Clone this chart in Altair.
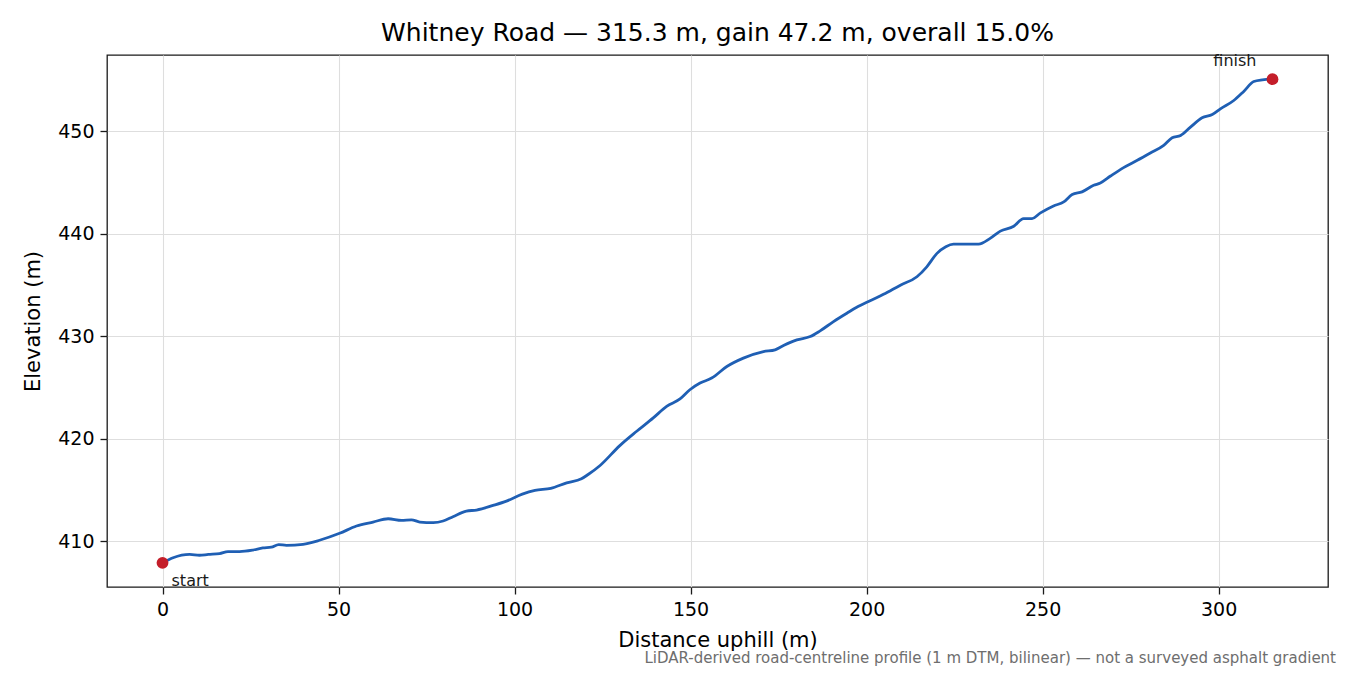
import altair as alt
import pandas as pd

# distance along the road (m) and elevation (m)
distance = [0, 3, 7.7, 10.5, 13, 16.2, 18.6, 21.9, 25.7, 28.5, 30.9, 33, 35.2, 39.9, 44.6,
            50.3, 55.1, 59.8, 64.1, 67.9, 70.7, 73.1, 76.9, 79.7, 82.5, 86.3, 89.2, 93.9, 97.7,
            102.2, 105.8, 110.3, 114.8, 119, 120.9, 124.3, 129.9, 134.7, 139.4, 143.2, 147,
            149.8, 152.7, 156, 160.3, 165, 170.7, 174, 176.4, 180.2, 184, 186.8, 190.6, 194.4,
            197.2, 201, 204.8, 209.6, 214.3, 217.1, 220, 222.5, 224.7, 231.8, 235.1, 238,
            241.8, 244.6, 247, 249.4, 253.1, 256, 258.4, 261.2, 264.5, 266.4, 269.3, 273,
            276.9, 280.6, 284.4, 286.8, 289.2, 292, 295.3, 298.2, 300.5, 304.3, 307.2, 310,
            312.4, 315.3]
elevation = [407.9, 408.4, 408.73, 408.64, 408.72, 408.8, 409.0, 409.0, 409.15, 409.35,
             409.42, 409.68, 409.61, 409.71, 410.1, 410.78, 411.49, 411.88, 412.2, 412.04,
             412.1, 411.88, 411.82, 411.98, 412.4, 412.95, 413.05, 413.5, 413.92, 414.6,
             414.97, 415.17, 415.71, 416.1, 416.52, 417.4, 419.34, 420.74, 422.04, 423.17,
             423.89, 424.79, 425.44, 425.93, 427.06, 427.88, 428.52, 428.69, 429.11, 429.66,
             429.98, 430.54, 431.44, 432.26, 432.84, 433.48, 434.1, 435.0, 435.82, 436.79,
             438.1, 438.75, 439.0, 439.0, 439.56, 440.27, 440.75, 441.5, 441.5, 442.05,
             442.73, 443.12, 443.84, 444.1, 444.74, 444.97, 445.65, 446.47, 447.18, 447.89,
             448.64, 449.39, 449.61, 450.42, 451.33, 451.65, 452.21, 453.02, 453.93, 454.87,
             455.03, 455.1]

end_labels = ['start', 'finish']
end_distance = [0, 315.3]
end_elevation = [407.9, 455.1]

x_ticks = [0, 50, 100, 150, 200, 250, 300]
y_ticks = [410, 420, 430, 440, 450]

title_text = 'Whitney Road \u2014 315.3 m, gain 47.2 m, overall 15.0%'
footnote = ('LiDAR-derived road-centreline profile (1 m DTM, bilinear) \u2014 '
            'not a surveyed asphalt gradient')

FONT = 'DejaVu Sans'
LINE_BLUE = '#1f5fb4'
MARK_RED = '#c41e2a'

profile = pd.DataFrame({'distance': distance, 'elevation': elevation})
ends = pd.DataFrame({'label': end_labels, 'distance': end_distance, 'elevation': end_elevation})

x_scale = alt.Scale(domain=[-15.77, 331.07], nice=False, zero=False)
y_scale = alt.Scale(domain=[405.54, 457.46], nice=False, zero=False)

x_enc = alt.X('distance:Q', scale=x_scale, title='Distance uphill (m)',
              axis=alt.Axis(values=x_ticks, titlePadding=10))
y_enc = alt.Y('elevation:Q', scale=y_scale, title='Elevation (m)',
              axis=alt.Axis(values=y_ticks, titlePadding=14))

line = alt.Chart(profile).mark_line(color=LINE_BLUE, strokeWidth=2.8, interpolate='monotone').encode(
    x=x_enc,
    y=y_enc,
)

dots = alt.Chart(ends).mark_circle(color=MARK_RED, size=140, opacity=1).encode(
    x='distance:Q',
    y='elevation:Q',
)

start_label = alt.Chart(ends[ends['label'] == 'start']).mark_text(
    align='left', baseline='top', dx=9, dy=10, font=FONT, fontSize=16, color='#1a1a1a'
).encode(x='distance:Q', y='elevation:Q', text='label:N')

finish_label = alt.Chart(ends[ends['label'] == 'finish']).mark_text(
    align='right', baseline='bottom', dx=-16, dy=-10, font=FONT, fontSize=16, color='#1a1a1a'
).encode(x='distance:Q', y='elevation:Q', text='label:N')

note = alt.Chart(pd.DataFrame({'note': [footnote]})).mark_text(
    align='right', baseline='alphabetic', font=FONT, fontSize=15, color='#6e6e6e'
).encode(x=alt.value(1229), y=alt.value(608), text='note:N')

chart = alt.layer(line, dots, start_label, finish_label, note).properties(
    width=1221,
    height=532,
    title=alt.TitleParams(title_text, font=FONT, fontSize=25, fontWeight='normal',
                          color='#000000', anchor='middle', frame='group', offset=7),
    autosize=alt.AutoSizeParams(type='none'),
    padding={'left': 99, 'top': 47, 'right': 14, 'bottom': 82},
).configure_view(
    stroke='#1a1a1a', strokeWidth=1.3,
).configure_axis(
    domain=False,
    grid=True,
    gridColor='#dedede',
    gridWidth=1.1,
    ticks=True,
    tickColor='#1a1a1a',
    tickSize=7,
    tickWidth=1.3,
    labelFont=FONT,
    labelFontSize=19,
    labelColor='#000000',
    labelPadding=6,
    titleFont=FONT,
    titleFontSize=21,
    titleFontWeight='normal',
    titleColor='#000000',
)

chart.save('out.html', embed_options={'renderer': 'svg', 'actions': False})
